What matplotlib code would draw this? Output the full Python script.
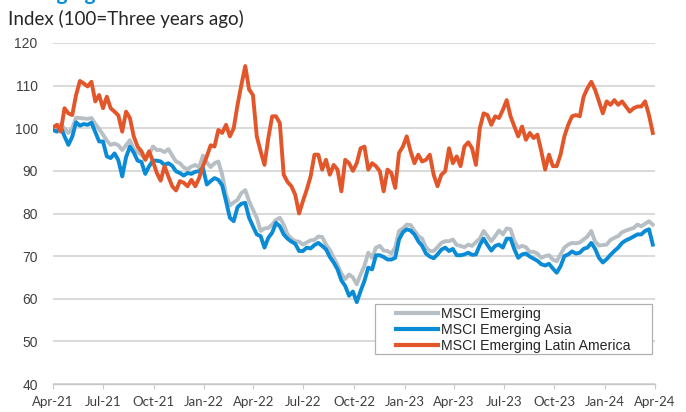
import matplotlib
matplotlib.use("Agg")
import matplotlib.pyplot as plt
import matplotlib.dates as mdates
from matplotlib.patches import Rectangle
import numpy as np
import pandas as pd

# weekly readings, Apr-2021 .. Apr-2024 (index, 100 = three years ago)
dates = pd.date_range("2021-04-01", periods=157, freq="7D")

msci_em = [
    100.2, 100.4, 101.0, 99.9, 98.9, 100.0, 102.5, 102.4, 102.3, 102.2,
    102.4, 101.0, 99.8, 98.5, 97.1, 96.1, 96.4, 96.0, 94.9, 96.0,
    97.2, 95.1, 94.4, 93.8, 92.7, 93.8, 95.7, 94.9, 94.9, 94.4,
    95.1, 93.6, 92.2, 91.8, 90.8, 90.4, 91.0, 91.4, 90.8, 93.6,
    92.0, 90.9, 91.8, 92.2, 89.1, 84.4, 81.9, 82.6, 83.2, 84.8,
    85.5, 82.9, 80.9, 79.0, 75.9, 76.5, 76.6, 77.4, 78.5, 79.0,
    77.4, 75.1, 74.1, 73.5, 73.4, 72.7, 73.2, 73.7, 73.8, 74.6,
    74.5, 72.7, 71.5, 69.6, 67.9, 65.9, 64.6, 65.7, 65.0, 63.4,
    65.7, 67.7, 70.8, 69.6, 72.0, 72.4, 71.3, 71.2, 70.6, 72.0,
    75.9, 76.5, 77.4, 77.3, 76.0, 74.7, 74.1, 72.1, 71.2, 71.2,
    72.1, 73.1, 73.5, 73.5, 73.9, 72.6, 72.4, 72.1, 72.7, 72.4,
    73.3, 74.1, 75.9, 74.7, 73.5, 74.7, 76.0, 75.1, 76.5, 76.3,
    73.5, 72.0, 72.4, 72.1, 71.0, 71.0, 70.6, 69.6, 70.0, 70.2,
    69.2, 68.8, 70.4, 72.0, 72.7, 73.1, 73.0, 73.2, 73.9, 74.6,
    75.9, 73.4, 72.5, 72.6, 72.7, 73.8, 74.3, 74.7, 75.6, 76.0,
    76.3, 76.6, 77.4, 77.0, 77.6, 78.2, 77.4,
]

msci_em_asia = [
    99.6, 99.2, 100.3, 98.1, 96.1, 98.0, 101.4, 100.6, 101.0, 100.8,
    101.3, 99.1, 96.9, 96.9, 93.4, 93.0, 94.1, 92.5, 88.7, 93.2,
    95.7, 94.3, 92.4, 92.1, 89.3, 91.1, 92.4, 92.4, 92.2, 91.4,
    91.8, 91.2, 89.9, 89.5, 88.9, 89.5, 89.3, 89.8, 89.9, 90.7,
    86.8, 87.6, 88.3, 87.9, 86.6, 82.9, 79.0, 78.2, 81.5, 82.3,
    82.5, 79.0, 77.0, 75.1, 74.7, 72.0, 74.3, 75.5, 77.8, 77.0,
    75.1, 74.1, 73.4, 72.9, 71.2, 71.2, 72.0, 71.8, 72.6, 73.1,
    72.4, 71.6, 69.8, 68.5, 66.9, 64.3, 63.0, 60.7, 61.7, 59.2,
    61.8, 64.2, 67.3, 66.9, 70.2, 70.2, 69.8, 69.2, 69.2, 69.6,
    73.9, 75.6, 76.3, 76.0, 75.1, 73.5, 72.4, 70.6, 69.9, 69.5,
    70.4, 71.5, 72.0, 71.2, 71.7, 70.2, 70.2, 70.4, 70.8, 70.3,
    70.4, 72.6, 74.1, 72.6, 71.3, 72.4, 72.7, 72.0, 74.1, 74.1,
    71.6, 69.6, 70.4, 70.6, 69.9, 69.4, 68.9, 68.1, 67.8, 68.2,
    67.1, 66.1, 67.6, 70.0, 70.4, 71.1, 70.6, 70.8, 71.7, 72.0,
    73.1, 71.7, 69.6, 68.5, 69.3, 70.3, 71.2, 72.0, 73.1, 73.7,
    74.1, 74.6, 75.1, 75.1, 75.9, 76.3, 72.7,
]

msci_em_latam = [
    100.2, 100.8, 99.2, 104.7, 103.5, 103.1, 107.8, 111.1, 110.5, 109.8,
    110.9, 106.3, 107.8, 104.7, 107.4, 104.7, 103.9, 103.0, 99.2, 103.9,
    102.4, 98.1, 95.7, 94.6, 92.6, 94.6, 92.2, 89.5, 87.7, 91.1,
    88.7, 86.4, 85.4, 87.6, 87.2, 86.4, 87.9, 86.4, 88.3, 91.1,
    93.4, 96.0, 95.7, 99.6, 98.9, 100.8, 98.1, 100.0, 105.5, 110.2,
    114.6, 109.1, 107.8, 98.1, 94.6, 91.4, 97.7, 102.8, 102.8, 101.2,
    89.1, 87.4, 86.4, 84.4, 80.0, 82.9, 85.6, 88.7, 93.8, 93.8,
    90.3, 92.6, 89.1, 91.4, 90.3, 85.2, 92.6, 91.8, 90.0, 91.8,
    95.3, 95.7, 90.3, 91.8, 91.1, 89.9, 85.2, 90.3, 89.5, 86.0,
    94.2, 95.7, 98.1, 94.6, 91.8, 93.8, 92.2, 92.6, 93.8, 89.1,
    86.4, 89.1, 89.9, 95.3, 91.8, 93.4, 91.1, 95.7, 96.7, 95.3,
    91.4, 100.0, 103.5, 103.1, 100.8, 102.8, 102.4, 104.3, 106.6, 102.8,
    100.4, 98.1, 100.4, 97.3, 98.9, 97.7, 98.5, 94.6, 90.3, 93.8,
    91.1, 91.1, 93.8, 98.1, 100.8, 102.8, 103.1, 102.8, 107.4, 109.4,
    110.9, 109.0, 106.3, 103.5, 106.3, 105.5, 106.6, 105.5, 106.3, 105.1,
    103.9, 104.7, 105.1, 105.1, 106.3, 103.1, 98.9,
]

series_names = ["MSCI Emerging", "MSCI Emerging Asia", "MSCI Emerging Latin America"]
series_colors = ["#b7bfc4", "#0a8bd6", "#e2562a"]

W, H = 686, 412
fig = plt.figure(figsize=(W / 100, H / 100), dpi=100)
ax = fig.add_axes([53 / W, 1 - 384 / H, (655 - 53) / W, (384 - 43) / H])

for vals, name, col in zip([msci_em, msci_em_asia, msci_em_latam], series_names, series_colors):
    ax.plot(dates, vals, color=col, lw=2.8, label=name, solid_joinstyle="round", zorder=2)

ax.set_ylim(40, 120)
ax.set_yticks(np.arange(40, 121, 10))
ax.set_xlim(pd.Timestamp("2021-04-01"), pd.Timestamp("2024-04-01"))
ax.xaxis.set_major_locator(mdates.MonthLocator(bymonth=[1, 4, 7, 10]))
ax.xaxis.set_major_formatter(mdates.DateFormatter("%b-%y"))

ax.grid(axis="y", color="#d0d0d0", lw=1.1)
ax.set_axisbelow(True)
for s in ["left", "right", "top"]:
    ax.spines[s].set_visible(False)
ax.spines["bottom"].set_color("#c8c8c8")
ax.spines["bottom"].set_linewidth(1.0)

ax.tick_params(axis="y", length=0, pad=11, labelsize=10, labelcolor="#404040")
ax.tick_params(axis="x", length=3.5, width=0.8, color="#c8c8c8", pad=5,
               labelsize=9.5, labelcolor="#404040")
for lab in ax.get_yticklabels():
    lab.set_fontfamily("Liberation Sans")
for lab in ax.get_xticklabels():
    lab.set_fontfamily("Lato")

# legend frame is wider than its entries in the original, so draw it separately
frame = Rectangle((375 / W, 1 - 354 / H), 277 / W, 50 / H, transform=fig.transFigure,
                  facecolor="white", edgecolor="#b0b0b0", lw=0.9, clip_on=False, zorder=4)
ax.add_patch(frame)
leg = ax.legend(loc="upper left", bbox_to_anchor=(396 / W, 1 - 307 / H),
                bbox_transform=fig.transFigure, frameon=False, borderpad=0,
                borderaxespad=0, handlelength=2.95, handletextpad=0.25,
                labelspacing=0.15, prop={"family": "Liberation Sans", "size": 10.2})
leg.set_zorder(5)
for t in leg.get_texts():
    t.set_color("#262626")
for h in leg.get_lines():
    h.set_linewidth(3.0)

# clipped chart title at the very top, plus the axis caption
fig.text(8 / W, 1.0, "Emerging markets", color="#0a8bd6", fontsize=15,
         fontweight="bold", family="Lato", va="baseline", ha="left")
fig.text(8 / W, 1 - 19 / H, "Index (100=Three years ago)", color="#262626",
         fontsize=13.5, family="Lato", va="center", ha="left")

fig.savefig("out.png", dpi=100)
